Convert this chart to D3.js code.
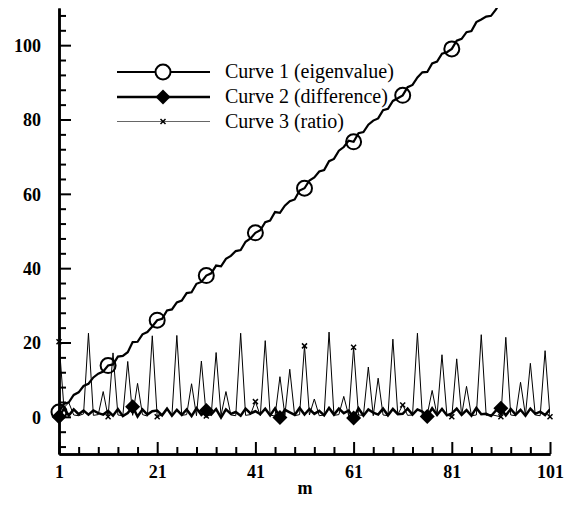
<!DOCTYPE html>
<html>
<head>
<meta charset="utf-8">
<script src="https://cdn.jsdelivr.net/npm/d3@7"></script>
<style>
  body { margin: 0; background: #fff; }
  svg { display: block; }
  .tick text { font-family: "Liberation Serif", "Times New Roman", serif; font-weight: bold; font-size: 18px; fill: #000; }
</style>
</head>
<body>
<div id="container"></div>
<script>
// x = m, starting at 1
let eigenvalue = [
  1.3, 3.5, 3.9, 5.9, 6.6, 8.3, 8.9, 10.6, 11.6, 12.2,
  13.8, 14.1, 16.2, 16.4, 17.4, 20.1, 20.2, 22.2, 22.8, 24.3,
  26.0, 26.4, 28.6, 28.9, 30.8, 31.3, 33.3, 33.5, 35.8, 36.3,
  38.0, 38.6, 40.7, 40.5, 42.5, 43.3, 44.6, 44.9, 47.1, 48.0,
  49.5, 50.2, 52.4, 52.8, 55.1, 54.9, 56.8, 58.0, 58.5, 60.9,
  61.5, 63.6, 64.4, 66.0, 66.4, 68.8, 69.4, 71.6, 72.6, 74.3,
  74.0, 76.3, 76.6, 78.6, 79.7, 80.3, 82.5, 82.9, 85.0, 85.7,
  86.5, 88.7, 89.3, 91.3, 92.7, 92.8, 95.1, 95.6, 97.7, 98.1,
  99.0, 101.2, 101.7, 103.5, 103.8, 106.2, 106.9, 107.7, 107.9, 109.6,
  111.9, 112.3, 114.4, 115.0, 116.9, 117.2, 119.4, 120.2, 121.6, 122.1,
  124.1
]
let difference = [
  0.0, 2.2, 0.4, 2.0, 0.7, 1.7, 0.6, 1.7, 1.0, 0.6,
  1.6, 0.3, 2.1, 0.2, 1.0, 2.7, 0.1, 2.0, 0.6, 1.5,
  1.7, 0.4, 2.2, 0.3, 1.9, 0.5, 2.0, 0.2, 2.3, 0.5,
  1.7, 0.6, 2.1, -0.2, 2.0, 0.8, 1.3, 0.3, 2.2, 0.9,
  1.5, 0.7, 2.2, 0.4, 2.3, -0.2, 1.9, 1.2, 0.5, 2.4,
  0.6, 2.1, 0.8, 1.6, 0.4, 2.4, 0.6, 2.2, 1.0, 1.7,
  -0.3, 2.3, 0.3, 2.0, 1.1, 0.6, 2.2, 0.4, 2.1, 0.7,
  0.8, 2.2, 0.6, 2.0, 1.4, 0.1, 2.3, 0.5, 2.1, 0.4,
  0.9, 2.2, 0.5, 1.8, 0.3, 2.4, 0.7, 0.8, 0.2, 1.7,
  2.3, 0.4, 2.1, 0.6, 1.9, 0.3, 2.2, 0.8, 1.4, 0.5,
  2.0
]
let ratio = [
  20.2, 2.5, 3.8, 0.5, 0.3, 0.8, 22.5, 0.4, 0.6, 6.8,
  0.0, 17.2, 0.5, 0.3, 14.9, 0.4, 9.0, 0.6, 0.2, 21.8,
  0.0, 0.5, 2.4, 0.3, 21.9, 0.4, 0.6, 8.9, 0.3, 15.0,
  0.2, 0.5, 17.3, 0.4, 6.8, 0.5, 0.3, 22.5, 0.4, 0.6,
  4.1, 0.3, 20.5, 0.5, 0.2, 10.8, 0.4, 12.8, 0.3, 0.6,
  19.1, 0.5, 4.8, 0.3, 0.5, 22.8, 0.4, 0.6, 5.5, 0.3,
  18.7, 0.5, 0.4, 13.4, 0.3, 10.4, 0.5, 0.3, 20.9, 0.6,
  3.2, 0.4, 0.5, 22.5, 0.3, 0.6, 7.1, 0.4, 16.7, 0.5,
  0.0, 15.6, 0.4, 8.2, 0.3, 0.5, 22.1, 0.4, 0.6, 0.3,
  0.0, 21.4, 0.5, 0.3, 9.3, 0.4, 14.4, 0.5, 0.3, 17.8,
  0.0
]
let circleMarks = [1, 11, 21, 31, 41, 51, 61, 71, 81, 91, 101]
let diamondMarks = [1, 16, 31, 46, 61, 76, 91]
let crossMarks = [1, 11, 21, 31, 41, 51, 61, 71, 81, 91, 101]
let xTicks = [1, 21, 41, 61, 81, 101]
let yTicks = [0, 20, 40, 60, 80, 100]
let xMinor = [5, 9, 13, 17, 25, 29, 33, 37, 45, 49, 53, 57, 65, 69, 73, 77, 85, 89, 93, 97]
let yMinor = [-8, -4, 4, 8, 12, 16, 24, 28, 32, 36, 44, 48, 52, 56, 64, 68, 72, 76, 84, 88, 92, 96, 104, 108]
let legendLabels = ["Curve 1 (eigenvalue)", "Curve 2 (difference)", "Curve 3 (ratio)"]

let W = 571, H = 506
let pLeft = 59, pRight = 550, pTop = 8, pBottom = 454

let svg = d3.select("#container").append("svg").attr("width", W).attr("height", H)

let x = d3.scaleLinear().domain([1, 101]).range([pLeft, pRight])
let y = d3.scaleLinear().domain([-10, 110]).range([pBottom, pTop])

svg.append("clipPath").attr("id", "plot")
  .append("rect").attr("x", pLeft).attr("y", pTop).attr("width", pRight - pLeft).attr("height", pBottom - pTop)

// axes
let yAxis = svg.append("g").attr("transform", `translate(${pLeft},0)`)
  .call(d3.axisLeft(y).tickValues(yTicks).tickSize(-12).tickSizeOuter(0).tickPadding(18))
let yMin = svg.append("g").attr("transform", `translate(${pLeft},0)`)
  .call(d3.axisLeft(y).tickValues(yMinor).tickSize(-7).tickSizeOuter(0).tickFormat(""))
let xAxis = svg.append("g").attr("transform", `translate(0,${pBottom})`)
  .call(d3.axisBottom(x).tickValues(xTicks).tickSize(-12).tickSizeOuter(0).tickPadding(11))
let xMin = svg.append("g").attr("transform", `translate(0,${pBottom})`)
  .call(d3.axisBottom(x).tickValues(xMinor).tickSize(-7).tickSizeOuter(0).tickFormat(""))
svg.selectAll(".domain").attr("stroke", "#000").attr("stroke-width", 2.5)
svg.selectAll(".tick line").attr("stroke", "#000").attr("stroke-width", 2)
yAxis.selectAll(".tick text").attr("dy", "0.35em")

svg.append("text").attr("x", 305).attr("y", 494).attr("text-anchor", "middle")
  .style("font-family", '"Liberation Serif", serif').style("font-weight", "bold").style("font-size", "18px")
  .text("m")

// curves
let line = d3.line().x((d, i) => x(i + 1)).y(d => y(d))
let plot = svg.append("g").attr("clip-path", "url(#plot)")
plot.append("path").datum(ratio).attr("d", line)
  .attr("fill", "none").attr("stroke", "#000").attr("stroke-width", 1).attr("stroke-linejoin", "miter")
plot.append("path").datum(difference).attr("d", line)
  .attr("fill", "none").attr("stroke", "#000").attr("stroke-width", 2.5)
plot.append("path").datum(eigenvalue).attr("d", line)
  .attr("fill", "none").attr("stroke", "#000").attr("stroke-width", 2.2)

let inside = v => v >= -10 && v <= 110
let diamond = "M0,-7.5L7.5,0L0,7.5L-7.5,0Z"
let cross = "M-2.5,-2.5L2.5,2.5M-2.5,2.5L2.5,-2.5"

svg.selectAll(".crossMark")
  .data(crossMarks.filter(m => inside(ratio[m - 1])))
  .enter().append("path").attr("class", "crossMark")
  .attr("transform", m => `translate(${x(m)},${y(ratio[m - 1])})`)
  .attr("d", cross).attr("stroke", "#000").attr("stroke-width", 1.5)
svg.selectAll(".diamondMark")
  .data(diamondMarks.filter(m => inside(difference[m - 1])))
  .enter().append("path").attr("class", "diamondMark")
  .attr("transform", m => `translate(${x(m)},${y(difference[m - 1])})`)
  .attr("d", diamond).attr("fill", "#000")
svg.selectAll(".circleMark")
  .data(circleMarks.filter(m => inside(eigenvalue[m - 1])))
  .enter().append("circle").attr("class", "circleMark")
  .attr("cx", m => x(m)).attr("cy", m => y(eigenvalue[m - 1])).attr("r", 7.5)
  .attr("fill", "none").attr("stroke", "#000").attr("stroke-width", 2)

// legend
let legend = svg.append("g")
let rowY = [72, 97, 121.5]
let rowW = [2.2, 2.5, 1]
legendLabels.forEach((label, i) => {
  legend.append("line").attr("x1", 117).attr("x2", 210).attr("y1", rowY[i]).attr("y2", rowY[i])
    .attr("stroke", i == 2 ? "#666" : "#000").attr("stroke-width", rowW[i])
  if (i == 0) legend.append("circle").attr("cx", 163).attr("cy", rowY[i]).attr("r", 7.5)
    .attr("fill", "#fff").attr("stroke", "#000").attr("stroke-width", 2)
  if (i == 1) legend.append("path").attr("transform", `translate(163,${rowY[i]})`).attr("d", diamond).attr("fill", "#000")
  if (i == 2) legend.append("path").attr("transform", `translate(163,${rowY[i]})`).attr("d", cross)
    .attr("stroke", "#000").attr("stroke-width", 1.5)
  legend.append("text").attr("x", 225).attr("y", rowY[i] + 6)
    .style("font-family", '"Liberation Serif", serif').style("font-size", "20px")
    .text(label)
})
</script>
</body>
</html>
